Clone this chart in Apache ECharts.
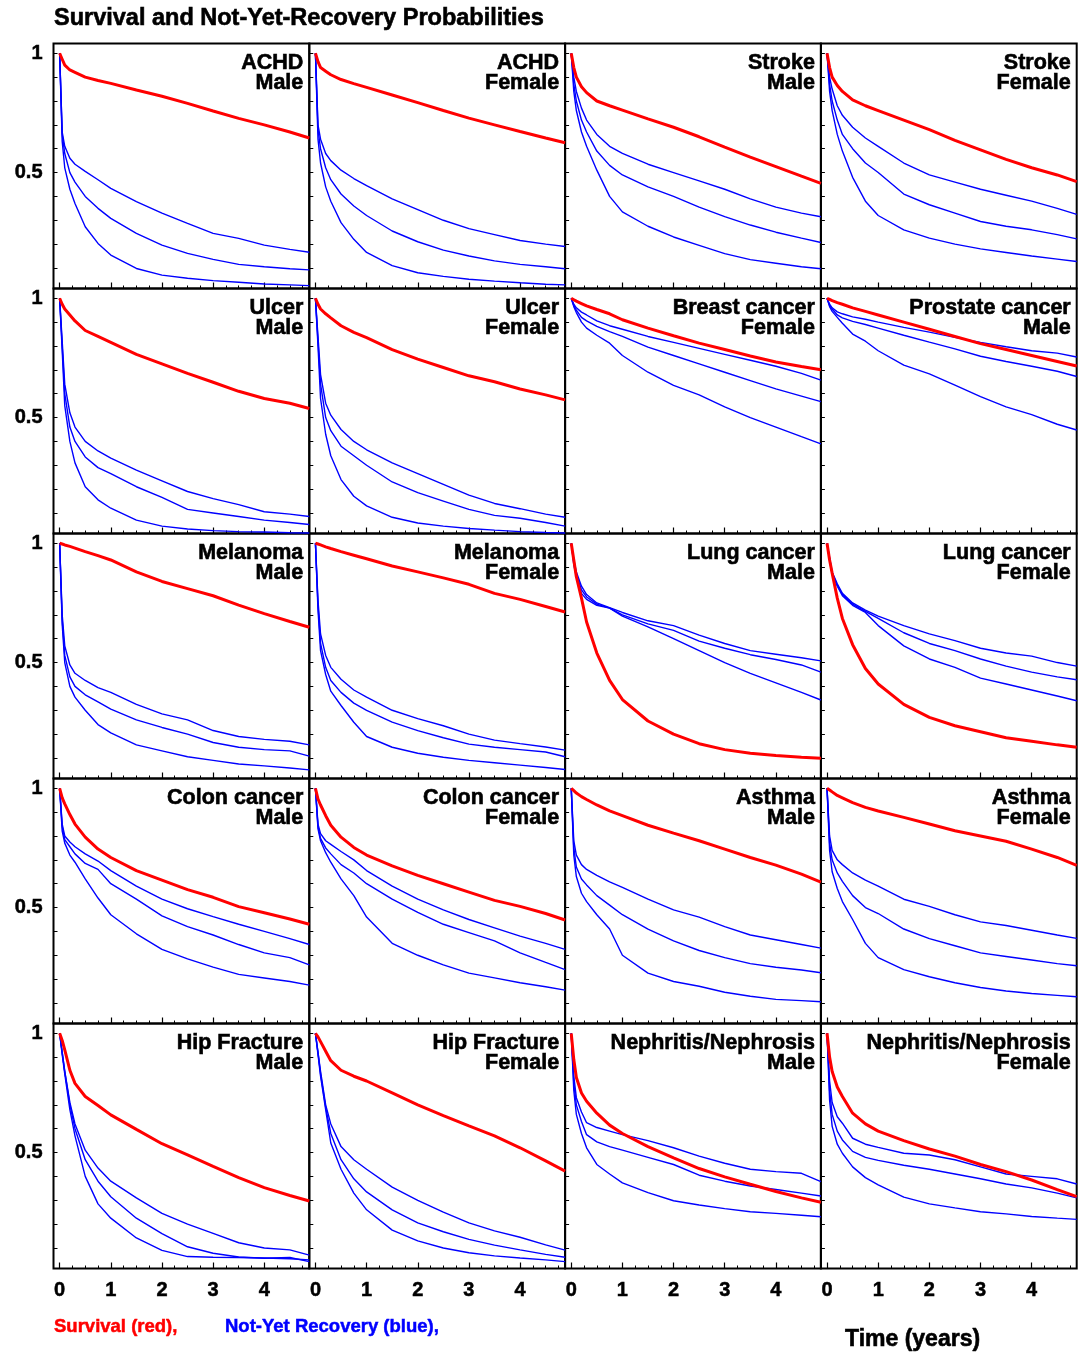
<!DOCTYPE html>
<html><head><meta charset="utf-8">
<script src="https://cdn.jsdelivr.net/npm/echarts@6/dist/echarts.min.js"></script>
<style>html,body{margin:0;padding:0;background:#fff}#c{width:1079px;height:1355px}</style>
</head><body><div id="c"></div>
<script>
// ---------- data ----------
const T = [0, 0.05, 0.1, 0.2, 0.3, 0.5, 0.75, 1, 1.5, 2, 2.5, 3, 3.5, 4, 4.5, 4.88];
const YEAR_TICKS = [0, 1, 2, 3, 4];
const QUARTER_TICKS = [0,0.25,0.5,0.75,1,1.25,1.5,1.75,2,2.25,2.5,2.75,3,3.25,3.5,3.75,4,4.25,4.5,4.75];
const PROB_TICKS = [0.1,0.2,0.3,0.4,0.5,0.6,0.7,0.8,0.9,1];
const PROB_LABELS = [0.5, 1];

const achdMale_red   = [1,0.975,0.95,0.93,0.92,0.90,0.886,0.874,0.846,0.82,0.79,0.758,0.727,0.70,0.67,0.645];
const achdMale_b1    = [1,0.67,0.61,0.56,0.535,0.505,0.47,0.434,0.378,0.33,0.287,0.245,0.224,0.196,0.178,0.166];
const achdMale_b2    = [1,0.66,0.58,0.50,0.46,0.40,0.35,0.308,0.245,0.196,0.161,0.136,0.115,0.105,0.097,0.092];
const achdMale_b3    = [1,0.63,0.52,0.43,0.37,0.273,0.203,0.154,0.098,0.07,0.057,0.047,0.04,0.033,0.029,0.026];

const achdFemale_red = [1,0.965,0.94,0.925,0.91,0.89,0.873,0.857,0.825,0.793,0.76,0.728,0.70,0.672,0.645,0.625];
const achdFemale_b1  = [1,0.70,0.64,0.58,0.55,0.51,0.475,0.445,0.39,0.345,0.30,0.265,0.24,0.215,0.20,0.19];
const achdFemale_b2  = [1,0.68,0.60,0.52,0.47,0.41,0.36,0.32,0.255,0.21,0.175,0.15,0.13,0.115,0.105,0.097];
const achdFemale_b3  = [1,0.64,0.54,0.44,0.38,0.29,0.22,0.165,0.11,0.08,0.065,0.053,0.045,0.038,0.032,0.029];

const strokeMale_red = [1,0.94,0.90,0.86,0.835,0.80,0.78,0.762,0.725,0.69,0.65,0.607,0.565,0.525,0.485,0.455];
const strokeMale_b1  = [1,0.90,0.84,0.77,0.72,0.66,0.61,0.58,0.535,0.50,0.465,0.43,0.39,0.355,0.33,0.315];
const strokeMale_b2  = [1,0.87,0.80,0.72,0.67,0.59,0.53,0.49,0.44,0.40,0.355,0.315,0.28,0.25,0.225,0.207];
const strokeMale_b3  = [1,0.84,0.76,0.67,0.61,0.51,0.40,0.335,0.275,0.23,0.195,0.16,0.135,0.12,0.105,0.097];

const strokeFemale_red = [1,0.94,0.90,0.865,0.84,0.805,0.78,0.76,0.72,0.68,0.635,0.595,0.555,0.52,0.49,0.462];
const strokeFemale_b1  = [1,0.90,0.85,0.78,0.74,0.69,0.645,0.61,0.54,0.49,0.46,0.43,0.405,0.38,0.35,0.325];
const strokeFemale_b2  = [1,0.87,0.80,0.72,0.66,0.60,0.54,0.50,0.41,0.365,0.33,0.295,0.275,0.26,0.24,0.222];
const strokeFemale_b3  = [1,0.84,0.76,0.66,0.59,0.48,0.38,0.32,0.26,0.225,0.20,0.18,0.165,0.15,0.137,0.127];

const ulcerMale_red = [1,0.975,0.955,0.93,0.905,0.865,0.84,0.815,0.765,0.725,0.685,0.648,0.61,0.58,0.56,0.538];
const ulcerMale_b1  = [1,0.82,0.64,0.52,0.46,0.40,0.36,0.33,0.28,0.235,0.19,0.16,0.135,0.105,0.095,0.085];
const ulcerMale_b2  = [1,0.80,0.60,0.46,0.40,0.335,0.29,0.265,0.21,0.165,0.115,0.10,0.085,0.07,0.06,0.052];
const ulcerMale_b3  = [1,0.78,0.55,0.40,0.31,0.21,0.155,0.12,0.07,0.045,0.033,0.026,0.022,0.02,0.017,0.016];

const ulcerFemale_red = [1,0.975,0.955,0.935,0.918,0.885,0.857,0.835,0.785,0.745,0.71,0.675,0.65,0.62,0.595,0.574];
const ulcerFemale_b1  = [1,0.84,0.68,0.56,0.51,0.45,0.40,0.365,0.31,0.265,0.22,0.175,0.14,0.118,0.095,0.082];
const ulcerFemale_b2  = [1,0.82,0.64,0.50,0.445,0.38,0.34,0.30,0.23,0.185,0.15,0.115,0.09,0.078,0.06,0.045];
const ulcerFemale_b3  = [1,0.80,0.58,0.43,0.34,0.24,0.17,0.13,0.082,0.058,0.045,0.035,0.028,0.022,0.018,0.016];

const breastFemale_red = [1,0.994,0.988,0.978,0.968,0.953,0.935,0.91,0.875,0.843,0.812,0.785,0.758,0.733,0.714,0.70];
const breastFemale_b1  = [1,0.975,0.96,0.942,0.93,0.905,0.885,0.87,0.84,0.815,0.79,0.765,0.74,0.715,0.685,0.657];
const breastFemale_b2  = [1,0.97,0.95,0.92,0.905,0.882,0.86,0.84,0.795,0.76,0.725,0.69,0.655,0.62,0.59,0.567];
const breastFemale_b3  = [1,0.965,0.94,0.90,0.875,0.845,0.812,0.76,0.69,0.635,0.595,0.545,0.50,0.46,0.42,0.39];

const prostateMale_red = [1,0.995,0.99,0.982,0.975,0.96,0.945,0.93,0.90,0.87,0.84,0.81,0.785,0.76,0.735,0.716];
const prostateMale_b1  = [1,0.975,0.96,0.943,0.935,0.922,0.912,0.90,0.878,0.858,0.836,0.815,0.797,0.78,0.77,0.754];
const prostateMale_b2  = [1,0.97,0.955,0.93,0.918,0.903,0.89,0.875,0.845,0.816,0.788,0.757,0.735,0.715,0.694,0.672];
const prostateMale_b3  = [1,0.965,0.945,0.92,0.895,0.85,0.82,0.78,0.72,0.683,0.636,0.588,0.545,0.512,0.472,0.448];

const melanomaMale_red = [1,0.997,0.993,0.987,0.98,0.965,0.948,0.93,0.88,0.84,0.81,0.78,0.741,0.705,0.672,0.648];
const melanomaMale_b1  = [1,0.70,0.57,0.49,0.455,0.425,0.395,0.375,0.325,0.285,0.26,0.215,0.19,0.178,0.17,0.155];
const melanomaMale_b2  = [1,0.68,0.53,0.44,0.40,0.365,0.335,0.305,0.26,0.228,0.20,0.165,0.145,0.135,0.13,0.108];
const melanomaMale_b3  = [1,0.66,0.50,0.40,0.355,0.30,0.24,0.205,0.155,0.13,0.105,0.09,0.075,0.067,0.058,0.05];

const melanomaFemale_red = [1,0.997,0.993,0.985,0.978,0.965,0.95,0.935,0.905,0.88,0.855,0.828,0.79,0.765,0.735,0.712];
const melanomaFemale_b1  = [1,0.76,0.62,0.53,0.48,0.43,0.385,0.355,0.30,0.265,0.235,0.20,0.175,0.16,0.146,0.133];
const melanomaFemale_b2  = [1,0.74,0.58,0.48,0.425,0.375,0.33,0.30,0.25,0.215,0.185,0.158,0.145,0.135,0.125,0.105];
const melanomaFemale_b3  = [1,0.72,0.55,0.45,0.38,0.32,0.25,0.19,0.145,0.12,0.103,0.09,0.08,0.07,0.06,0.052];

const lungMale_red = [1,0.93,0.86,0.77,0.67,0.54,0.425,0.345,0.255,0.20,0.16,0.135,0.12,0.11,0.103,0.099];
const lungMale_b1  = [1,0.93,0.88,0.82,0.785,0.75,0.73,0.71,0.675,0.655,0.615,0.58,0.55,0.535,0.52,0.507];
const lungMale_b2  = [1,0.92,0.87,0.805,0.775,0.745,0.728,0.70,0.662,0.635,0.59,0.56,0.533,0.513,0.49,0.46];
const lungMale_b3  = [1,0.91,0.86,0.79,0.765,0.74,0.728,0.695,0.65,0.60,0.55,0.50,0.455,0.415,0.375,0.343];

const lungFemale_red = [1,0.93,0.875,0.77,0.685,0.575,0.475,0.41,0.325,0.27,0.235,0.21,0.185,0.17,0.155,0.145];
const lungFemale_b1  = [1,0.94,0.88,0.83,0.79,0.75,0.72,0.695,0.655,0.62,0.592,0.56,0.54,0.527,0.50,0.485];
const lungFemale_b2  = [1,0.935,0.875,0.825,0.785,0.745,0.715,0.685,0.625,0.58,0.55,0.515,0.485,0.46,0.44,0.428];
const lungFemale_b3  = [1,0.93,0.87,0.82,0.78,0.74,0.71,0.655,0.57,0.515,0.48,0.435,0.41,0.385,0.36,0.34];

const colonMale_red = [1,0.96,0.935,0.89,0.85,0.795,0.745,0.71,0.655,0.615,0.575,0.543,0.504,0.478,0.452,0.43];
const colonMale_b1  = [1,0.85,0.80,0.775,0.755,0.725,0.695,0.655,0.59,0.535,0.495,0.462,0.43,0.40,0.37,0.345];
const colonMale_b2  = [1,0.84,0.785,0.755,0.725,0.685,0.66,0.60,0.535,0.465,0.42,0.385,0.345,0.31,0.29,0.26];
const colonMale_b3  = [1,0.82,0.77,0.72,0.69,0.62,0.54,0.47,0.39,0.325,0.285,0.25,0.22,0.205,0.19,0.175];

const colonFemale_red = [1,0.955,0.93,0.885,0.845,0.795,0.752,0.72,0.675,0.635,0.60,0.565,0.53,0.505,0.475,0.448];
const colonFemale_b1  = [1,0.85,0.81,0.78,0.765,0.735,0.70,0.655,0.59,0.535,0.49,0.45,0.415,0.38,0.35,0.325];
const colonFemale_b2  = [1,0.84,0.79,0.75,0.725,0.68,0.645,0.60,0.535,0.48,0.43,0.395,0.36,0.31,0.27,0.24];
const colonFemale_b3  = [1,0.83,0.78,0.73,0.69,0.62,0.55,0.46,0.35,0.30,0.26,0.225,0.205,0.185,0.168,0.154];

const asthmaMale_red = [1,0.99,0.98,0.965,0.953,0.93,0.905,0.885,0.845,0.812,0.78,0.745,0.71,0.678,0.64,0.607];
const asthmaMale_b1  = [1,0.78,0.72,0.68,0.66,0.635,0.608,0.585,0.535,0.49,0.46,0.42,0.385,0.365,0.345,0.33];
const asthmaMale_b2  = [1,0.75,0.67,0.62,0.595,0.55,0.51,0.47,0.41,0.36,0.32,0.29,0.265,0.25,0.238,0.227];
const asthmaMale_b3  = [1,0.72,0.63,0.56,0.525,0.47,0.41,0.30,0.225,0.19,0.17,0.145,0.128,0.115,0.11,0.105];

const asthmaFemale_red = [1,0.993,0.985,0.97,0.96,0.94,0.92,0.905,0.878,0.85,0.822,0.80,0.778,0.745,0.71,0.677];
const asthmaFemale_b1  = [1,0.80,0.74,0.70,0.68,0.645,0.615,0.59,0.535,0.505,0.47,0.44,0.425,0.405,0.385,0.371];
const asthmaFemale_b2  = [1,0.77,0.70,0.645,0.61,0.55,0.50,0.475,0.41,0.37,0.34,0.31,0.295,0.28,0.265,0.256];
const asthmaFemale_b3  = [1,0.74,0.65,0.58,0.525,0.45,0.35,0.29,0.24,0.21,0.185,0.165,0.15,0.14,0.132,0.126];

const hipMale_red = [1,0.97,0.93,0.845,0.79,0.735,0.697,0.658,0.597,0.537,0.49,0.442,0.395,0.353,0.32,0.297];
const hipMale_b1  = [1,0.92,0.84,0.71,0.62,0.51,0.435,0.38,0.31,0.245,0.20,0.161,0.122,0.10,0.092,0.07];
const hipMale_b2  = [1,0.92,0.84,0.70,0.60,0.47,0.38,0.315,0.225,0.16,0.105,0.078,0.062,0.057,0.06,0.043];
const hipMale_b3  = [1,0.91,0.83,0.68,0.57,0.40,0.285,0.225,0.142,0.09,0.064,0.061,0.06,0.058,0.055,0.05];

const hipFemale_red = [1,0.985,0.965,0.925,0.885,0.845,0.82,0.80,0.75,0.70,0.655,0.612,0.57,0.52,0.465,0.422];
const hipFemale_b1  = [1,0.92,0.84,0.70,0.62,0.525,0.47,0.43,0.355,0.30,0.25,0.205,0.172,0.145,0.113,0.091];
const hipFemale_b2  = [1,0.92,0.83,0.69,0.58,0.47,0.39,0.335,0.26,0.205,0.168,0.136,0.112,0.092,0.073,0.061];
const hipFemale_b3  = [1,0.91,0.82,0.68,0.54,0.43,0.33,0.26,0.175,0.13,0.10,0.08,0.067,0.058,0.05,0.043];

const nephMale_red = [1,0.89,0.815,0.75,0.715,0.665,0.615,0.58,0.525,0.478,0.433,0.398,0.367,0.337,0.31,0.292];
const nephMale_b1  = [1,0.82,0.73,0.67,0.625,0.605,0.59,0.575,0.55,0.52,0.485,0.455,0.43,0.42,0.413,0.378];
const nephMale_b2  = [1,0.79,0.70,0.63,0.575,0.545,0.525,0.51,0.48,0.45,0.405,0.38,0.36,0.345,0.33,0.318];
const nephMale_b3  = [1,0.76,0.66,0.58,0.52,0.45,0.41,0.373,0.332,0.298,0.28,0.265,0.252,0.245,0.237,0.231];

const nephFemale_red = [1,0.90,0.84,0.775,0.735,0.665,0.62,0.59,0.55,0.515,0.485,0.45,0.42,0.385,0.345,0.315];
const nephFemale_b1  = [1,0.80,0.71,0.65,0.623,0.56,0.535,0.522,0.497,0.49,0.47,0.44,0.41,0.40,0.39,0.368];
const nephFemale_b2  = [1,0.76,0.66,0.59,0.553,0.505,0.48,0.467,0.447,0.43,0.41,0.39,0.368,0.352,0.33,0.31];
const nephFemale_b3  = [1,0.72,0.61,0.535,0.497,0.44,0.395,0.365,0.313,0.285,0.268,0.252,0.243,0.232,0.225,0.22];

const panelNames = [
  ['ACHD','Male'],['ACHD','Female'],['Stroke','Male'],['Stroke','Female'],
  ['Ulcer','Male'],['Ulcer','Female'],['Breast cancer','Female'],['Prostate cancer','Male'],
  ['Melanoma','Male'],['Melanoma','Female'],['Lung cancer','Male'],['Lung cancer','Female'],
  ['Colon cancer','Male'],['Colon cancer','Female'],['Asthma','Male'],['Asthma','Female'],
  ['Hip Fracture','Male'],['Hip Fracture','Female'],['Nephritis/Nephrosis','Male'],['Nephritis/Nephrosis','Female']
];
const survival = [achdMale_red, achdFemale_red, strokeMale_red, strokeFemale_red,
  ulcerMale_red, ulcerFemale_red, breastFemale_red, prostateMale_red,
  melanomaMale_red, melanomaFemale_red, lungMale_red, lungFemale_red,
  colonMale_red, colonFemale_red, asthmaMale_red, asthmaFemale_red,
  hipMale_red, hipFemale_red, nephMale_red, nephFemale_red];
const recovery = [
  [achdMale_b1, achdMale_b2, achdMale_b3], [achdFemale_b1, achdFemale_b2, achdFemale_b3],
  [strokeMale_b1, strokeMale_b2, strokeMale_b3], [strokeFemale_b1, strokeFemale_b2, strokeFemale_b3],
  [ulcerMale_b1, ulcerMale_b2, ulcerMale_b3], [ulcerFemale_b1, ulcerFemale_b2, ulcerFemale_b3],
  [breastFemale_b1, breastFemale_b2, breastFemale_b3], [prostateMale_b1, prostateMale_b2, prostateMale_b3],
  [melanomaMale_b1, melanomaMale_b2, melanomaMale_b3], [melanomaFemale_b1, melanomaFemale_b2, melanomaFemale_b3],
  [lungMale_b1, lungMale_b2, lungMale_b3], [lungFemale_b1, lungFemale_b2, lungFemale_b3],
  [colonMale_b1, colonMale_b2, colonMale_b3], [colonFemale_b1, colonFemale_b2, colonFemale_b3],
  [asthmaMale_b1, asthmaMale_b2, asthmaMale_b3], [asthmaFemale_b1, asthmaFemale_b2, asthmaFemale_b3],
  [hipMale_b1, hipMale_b2, hipMale_b3], [hipFemale_b1, hipFemale_b2, hipFemale_b3],
  [nephMale_b1, nephMale_b2, nephMale_b3], [nephFemale_b1, nephFemale_b2, nephFemale_b3]
];

// ---------- layout ----------
const FONT = '"Liberation Sans", Arial, Helvetica, sans-serif';
const L0 = 53.5, T0 = 43.5, PW = 255.8, PH = 245;
const XMIN = -0.12, XMAX = 4.88, YMIN = 0.014, YMAX = 1.041;

const grids = [], xAxes = [], yAxes = [], series = [], graphics = [];
panelNames.forEach((nm, i) => {
  const r = Math.floor(i / 4), c = i % 4;
  const left = L0 + c * PW, top = T0 + r * PH;
  grids.push({left: left, top: top, width: PW, height: PH, show: true,
    borderColor: '#000', borderWidth: 2, backgroundColor: 'rgba(0,0,0,0)', outerBoundsMode: 'none', containLabel: false});
  xAxes.push({type: 'value', gridIndex: i, min: XMIN, max: XMAX, position: 'bottom',
    axisLine: {show: false, onZero: false}, splitLine: {show: false},
    axisTick: {show: true, inside: true, length: 6, customValues: YEAR_TICKS, lineStyle: {color: '#000', width: 1.2}},
    axisLabel: {show: r === 4, customValues: YEAR_TICKS, formatter: v => String(v), margin: 12,
      fontSize: 20, fontWeight: 'bold', color: '#000', fontFamily: FONT, textBorderColor: '#000', textBorderWidth: 0.5}});
  xAxes.push({type: 'value', gridIndex: i, min: XMIN, max: XMAX, position: 'bottom',
    axisLine: {show: false, onZero: false}, splitLine: {show: false},
    axisTick: {show: true, inside: true, length: 3, customValues: QUARTER_TICKS, lineStyle: {color: '#000', width: 1}},
    axisLabel: {show: false}});
  yAxes.push({type: 'value', gridIndex: i, min: YMIN, max: YMAX, position: 'left',
    axisLine: {show: false, onZero: false}, splitLine: {show: false},
    axisTick: {show: true, inside: true, length: 4, customValues: PROB_TICKS, lineStyle: {color: '#000', width: 1}},
    axisLabel: {show: c === 0, customValues: PROB_LABELS, formatter: v => (v > 0.99 ? '1' : '0.5'), margin: 11,
      fontSize: 20, fontWeight: 'bold', color: '#000', fontFamily: FONT, textBorderColor: '#000', textBorderWidth: 0.5}});
  recovery[i].forEach(arr => {
    series.push({type: 'line', xAxisIndex: 2 * i, yAxisIndex: i, data: T.map((t, k) => [t, arr[k]]),
      symbol: 'none', showSymbol: false, silent: true, z: 2,
      lineStyle: {color: '#0000ff', width: 1.4}});
  });
  series.push({type: 'line', xAxisIndex: 2 * i, yAxisIndex: i, data: T.map((t, k) => [t, survival[i][k]]),
    symbol: 'none', showSymbol: false, silent: true, z: 3,
    lineStyle: {color: '#ff0000', width: 3}});
  graphics.push({type: 'text', x: left + PW - 6, y: top + 10, z: 10, silent: true,
    style: {text: nm[0] + '\n' + nm[1], align: 'right', verticalAlign: 'top',
      font: 'bold 21.5px ' + FONT, lineHeight: 19.5, fill: '#000', stroke: '#000', lineWidth: 0.6}});
});

graphics.push({type: 'text', x: 54, y: 18.5, silent: true,
  style: {text: 'Survival and Not-Yet-Recovery Probabilities', align: 'left', verticalAlign: 'middle',
    font: 'bold 23.5px ' + FONT, fill: '#000', stroke: '#000', lineWidth: 0.6}});
graphics.push({type: 'text', x: 54, y: 1327, silent: true,
  style: {text: 'Survival (red),', align: 'left', verticalAlign: 'middle', font: 'bold 18.5px ' + FONT,
    fill: '#ff0000', stroke: '#ff0000', lineWidth: 0.5}});
graphics.push({type: 'text', x: 225, y: 1327, silent: true,
  style: {text: 'Not-Yet Recovery (blue),', align: 'left', verticalAlign: 'middle', font: 'bold 18.5px ' + FONT,
    fill: '#0000ff', stroke: '#0000ff', lineWidth: 0.5}});
graphics.push({type: 'text', x: 845, y: 1340, silent: true,
  style: {text: 'Time (years)', align: 'left', verticalAlign: 'middle', font: 'bold 23px ' + FONT,
    fill: '#000', stroke: '#000', lineWidth: 0.6}});

const chart = echarts.init(document.getElementById('c'), null, {renderer: 'canvas'});
chart.setOption({
  animation: false,
  backgroundColor: '#fff',
  grid: grids, xAxis: xAxes, yAxis: yAxes, series: series,
  graphic: graphics
});
</script>
</body></html>
